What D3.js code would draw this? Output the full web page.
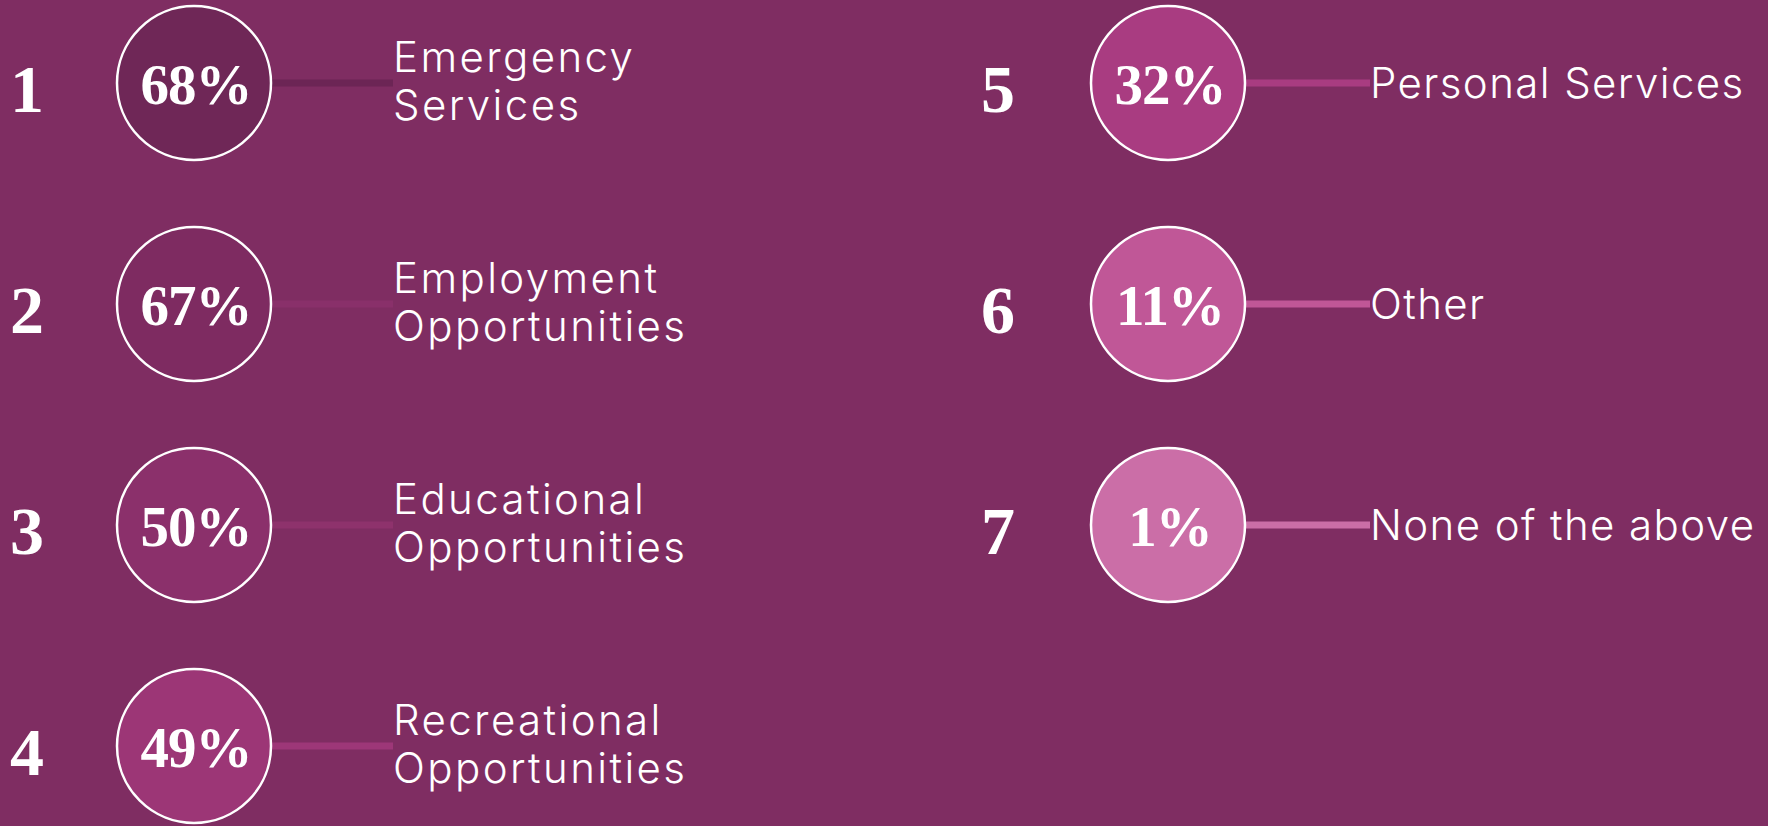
<!DOCTYPE html>
<html>
<head>
<meta charset="utf-8">
<script src="https://cdn.jsdelivr.net/npm/d3@7"></script>
<style>
  html, body { margin: 0; padding: 0; background: #7f2d62; overflow: hidden; }
</style>
</head>
<body>
<svg id="svgHolder"></svg>
<script>
let ranks = [1, 2, 3, 4, 5, 6, 7];
let values = [68, 67, 50, 49, 32, 11, 1];
let labels = [
    ['Emergency', 'Services'],
    ['Employment', 'Opportunities'],
    ['Educational', 'Opportunities'],
    ['Recreational', 'Opportunities'],
    ['Personal Services'],
    ['Other'],
    ['None of the above']
];
let fills = ['#6f2757', '#7e2b61', '#8b306b', '#9c3676', '#a93c81', '#c05797', '#cb6ea7'];
let lineColors = ['#6c2555', '#89306a', '#8e326c', '#9d3778', '#a93c81', '#c05797', '#cb6ea7'];

let width = 1768;
let height = 826;
let radius = 77;

let rowScale;
let colScale;

let svg = d3.select('#svgHolder')
    .attr('width', width)
    .attr('height', height);

function generateScales() {
    rowScale = d3.scaleLinear()
                .domain([0, 3])
                .range([83, 746]);
    colScale = d3.scaleOrdinal()
                .domain([0, 1])
                .range([194, 1168]);
}

function drawItems() {
    let data = ranks.map((r, i) => ({
        rank: r,
        value: values[i],
        label: labels[i],
        fill: fills[i],
        line: lineColors[i],
        col: i < 4 ? 0 : 1,
        row: i < 4 ? i : i - 4
    }));

    let items = svg.selectAll('g.item')
        .data(data)
        .enter()
        .append('g')
        .attr('class', 'item')
        .attr('transform', (d) => 'translate(' + colScale(d.col) + ',' + rowScale(d.row) + ')');

    // connector
    items.append('line')
        .attr('x1', radius)
        .attr('x2', (d) => d.col == 0 ? 199 : 202)
        .attr('y1', 0)
        .attr('y2', 0)
        .attr('stroke', (d) => d.line)
        .attr('stroke-width', 7);

    items.append('circle')
        .attr('r', radius)
        .attr('fill', (d) => d.fill)
        .attr('stroke', 'white')
        .attr('stroke-width', 2.5);

    items.append('text')
        .attr('class', 'pct')
        .attr('x', 2)
        .attr('y', 21)
        .attr('text-anchor', 'middle')
        .attr('fill', 'white')
        .style('font-family', '"Liberation Serif", serif')
        .style('font-weight', 'bold')
        .style('font-size', '57px')
        .style('letter-spacing', '-1px')
        .text((d) => d.value + '%');

    items.append('text')
        .attr('class', 'rank')
        .attr('x', (d) => d.col == 0 ? -167 : -170)
        .attr('y', 29)
        .attr('text-anchor', 'middle')
        .attr('fill', 'white')
        .style('font-family', '"Liberation Serif", serif')
        .style('font-weight', 'bold')
        .style('font-size', '68px')
        .text((d) => d.rank);

    let lab = items.append('text')
        .attr('class', 'label')
        .attr('fill', 'white')
        .style('font-family', 'Inter, sans-serif')
        .style('font-weight', 300)
        .style('font-size', '42px')
        .style('letter-spacing', (d) => d.col == 0 ? '2.4px' : '1.4px');

    lab.selectAll('tspan')
        .data((d) => d.label.map((t, j) => ({ t: t, j: j, n: d.label.length, col: d.col })))
        .enter()
        .append('tspan')
        .attr('x', (d) => d.col == 0 ? 199 : 202)
        .attr('y', (d) => d.n == 1 ? 15 : (d.j == 0 ? -11 : 37))
        .text((d) => d.t);
}

generateScales();
drawItems();
</script>
</body>
</html>
